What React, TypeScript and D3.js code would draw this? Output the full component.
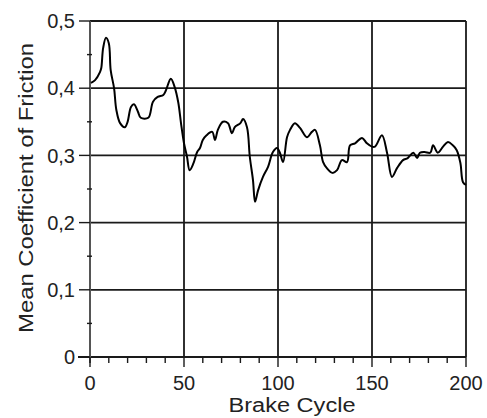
import React from "react";
import * as d3 from "d3";

// brake cycle vs mean friction coefficient
const cycles = [
  0.5, 2.7, 5.3, 6, 7, 8.5, 10, 11, 12.8, 14, 16, 18.6, 20, 21.8, 23.4, 25.5, 27, 31,
  33.5, 36, 39, 40.4, 43, 45, 47, 48.4, 50, 51.6, 53, 55, 57, 58.5, 60, 62, 65, 66.5,
  68, 70.7, 73.4, 75.5, 77, 80, 81.4, 83.5, 85, 86.7, 87.8, 89.4, 92, 94.7, 97.3, 99.5,
  101, 102.7, 104.8, 106.4, 109, 111.7, 115.4, 118, 119.7, 122.3, 124, 126, 129, 131.4,
  134, 136.7, 138.3, 141, 144.7, 147.3, 150, 151.6, 155.3, 158, 160.6, 163.3, 166.5,
  169, 172, 174, 175.5, 178, 181, 182.5, 185, 187.8, 190.4, 193, 195, 197, 198.4, 200,
];
const friction = [
  0.408, 0.412, 0.424, 0.43, 0.46, 0.475, 0.467, 0.427, 0.4, 0.368, 0.348, 0.342, 0.35,
  0.372, 0.376, 0.365, 0.356, 0.356, 0.38, 0.387, 0.39, 0.397, 0.414, 0.402, 0.378, 0.348,
  0.318, 0.298, 0.278, 0.288, 0.305, 0.311, 0.323, 0.33, 0.335, 0.323, 0.338, 0.35, 0.348,
  0.333, 0.342, 0.348, 0.354, 0.342, 0.298, 0.263, 0.231, 0.248, 0.268, 0.283, 0.305,
  0.311, 0.304, 0.29, 0.327, 0.338, 0.348, 0.341, 0.327, 0.335, 0.338, 0.315, 0.29, 0.281,
  0.274, 0.278, 0.293, 0.29, 0.315, 0.318, 0.326, 0.318, 0.313, 0.313, 0.33, 0.304, 0.268,
  0.281, 0.293, 0.296, 0.304, 0.296, 0.304, 0.305, 0.304, 0.315, 0.304, 0.313, 0.32, 0.315,
  0.308, 0.289, 0.26, 0.256,
];
const xTicks = [0, 50, 100, 150, 200];
const yTicks = [0, 0.1, 0.2, 0.3, 0.4, 0.5];
const yTickLabels = ["0", "0,1", "0,2", "0,3", "0,4", "0,5"];

const W = 487;
const H = 418;
const font = "'Liberation Sans', Arial, sans-serif";

export default function App() {
  const x = d3.scaleLinear().domain([0, 200]).range([90, 466]);
  const y = d3.scaleLinear().domain([0, 0.5]).range([357, 21]);

  const pts: [number, number][] = cycles.map((c, i) => [c, friction[i]]);
  const line = d3
    .line<[number, number]>()
    .x((d) => x(d[0]))
    .y((d) => y(d[1]))
    .curve(d3.curveCatmullRom.alpha(0.5));

  const xMinor = d3.range(0, 201, 10).filter((v) => v % 50 !== 0);
  const yMinor = d3.range(0.05, 0.5, 0.1);

  return (
    <svg
      width={W}
      height={H}
      style={{ position: "absolute", left: 0, top: 0, background: "#fff" }}
    >
      {/* grid */}
      <g stroke="#1a1a1a" strokeWidth={1.8}>
        {yTicks.slice(1).map((v) => (
          <line key={"gy" + v} x1={x(0)} x2={x(200)} y1={y(v)} y2={y(v)} />
        ))}
        {xTicks.slice(1).map((v) => (
          <line key={"gx" + v} x1={x(v)} x2={x(v)} y1={y(0)} y2={y(0.5)} />
        ))}
        <line x1={x(0) - 12} x2={x(200)} y1={y(0)} y2={y(0)} />
      </g>
      <line x1={x(0)} x2={x(0)} y1={y(0.5)} y2={y(0) + 6} stroke="#555" strokeWidth={2} />

      {/* ticks */}
      <g stroke="#1a1a1a" strokeWidth={1.4}>
        {yTicks.map((v) => (
          <line key={"ty" + v} x1={x(0) - 11} x2={x(0)} y1={y(v)} y2={y(v)} />
        ))}
        {yMinor.map((v) => (
          <line key={"my" + v} x1={x(0) - 3} x2={x(0) + 2} y1={y(v)} y2={y(v)} />
        ))}
        {xTicks.map((v) => (
          <line key={"tx" + v} x1={x(v)} x2={x(v)} y1={y(0)} y2={y(0) + 10} />
        ))}
        {xMinor.map((v) => (
          <line key={"mx" + v} x1={x(v)} x2={x(v)} y1={y(0)} y2={y(0) + 6} />
        ))}
      </g>

      {/* data */}
      <path d={line(pts) ?? ""} fill="none" stroke="#000" strokeWidth={2} strokeLinejoin="round" />

      {/* labels */}
      <g fontFamily={font} fontSize={20} fill="#222">
        {yTicks.map((v, i) => (
          <text key={"ly" + v} x={75} y={y(v)} textAnchor="end" dy="0.36em">
            {yTickLabels[i]}
          </text>
        ))}
        {xTicks.map((v) => (
          <text key={"lx" + v} x={x(v)} y={390} textAnchor="middle">
            {v}
          </text>
        ))}
        <text
          x={292}
          y={412}
          textAnchor="middle"
          textLength={127}
          lengthAdjust="spacingAndGlyphs"
        >
          Brake Cycle
        </text>
        <text
          transform={`translate(33,188) rotate(-90)`}
          textAnchor="middle"
          textLength={290}
          lengthAdjust="spacingAndGlyphs"
        >
          Mean Coefficient of Friction
        </text>
      </g>
    </svg>
  );
}
